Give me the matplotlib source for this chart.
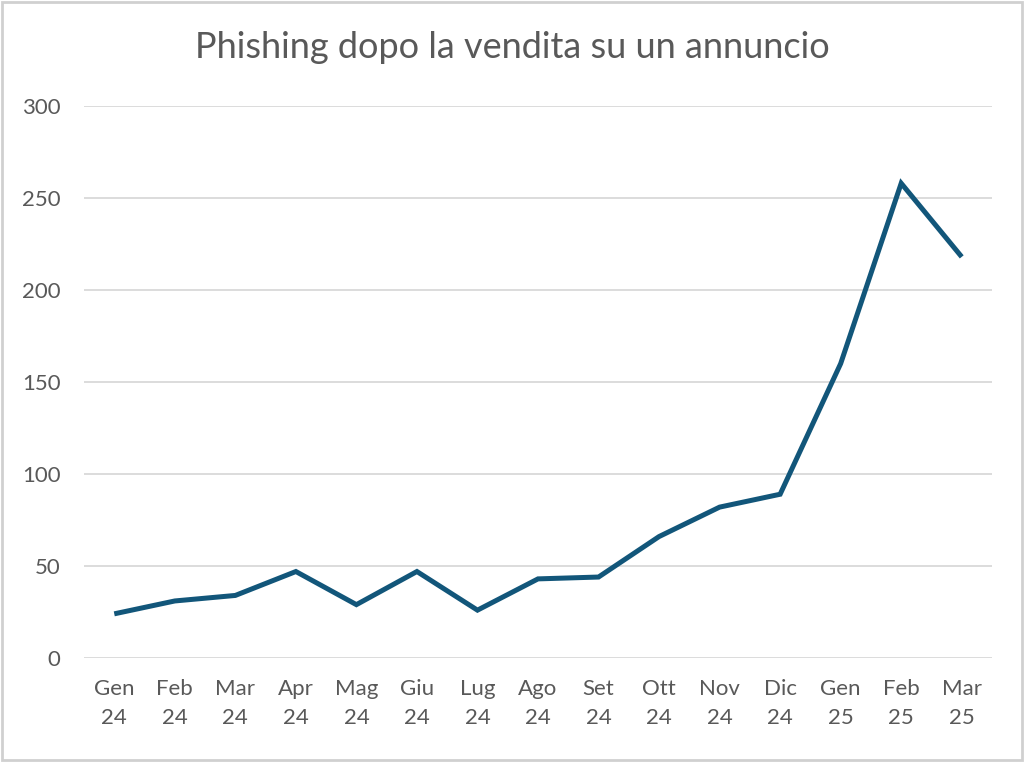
import numpy as np
import matplotlib.pyplot as plt
from matplotlib.patches import Rectangle

# Monthly values
mesi = ['Gen\n24', 'Feb\n24', 'Mar\n24', 'Apr\n24', 'Mag\n24', 'Giu\n24', 'Lug\n24',
        'Ago\n24', 'Set\n24', 'Ott\n24', 'Nov\n24', 'Dic\n24', 'Gen\n25', 'Feb\n25', 'Mar\n25']
casi = [24, 31, 34, 47, 29, 47, 26, 43, 44, 66, 82, 89, 160, 258, 218]
y_ticks = [0, 50, 100, 150, 200, 250, 300]

plt.rcParams['font.family'] = ['Lato', 'DejaVu Sans']

fig = plt.figure(figsize=(10.24, 7.62), dpi=100)
ax = fig.add_axes([84 / 1024, 1 - 658 / 762, (992 - 84) / 1024, (658 - 106) / 762])

x = np.arange(len(mesi))
ax.plot(x, casi, color='#12567a', linewidth=3.6, solid_joinstyle='miter', solid_capstyle='butt', zorder=3)

ax.set_xlim(-0.5, len(mesi) - 0.5)
ax.set_ylim(0, 300)
ax.set_yticks(y_ticks)
ax.set_xticks(x)
ax.set_xticklabels(mesi, fontsize=16, color='#595959', linespacing=1.6)
ax.tick_params(axis='y', labelsize=16, labelcolor='#595959', length=0, pad=17)
ax.tick_params(axis='x', length=0, pad=15)
ax.grid(axis='y', color='#d9d9d9', linewidth=1.3)
ax.set_axisbelow(True)
for s in ax.spines.values():
    s.set_visible(False)

fig.text(0.5, 1 - 47 / 762, 'Phishing dopo la vendita su un annuncio', ha='center', va='center',
         fontsize=26, color='#595959')

# light frame around the chart
fig.patches.append(Rectangle((0.002, 0.003), 0.996, 0.994, transform=fig.transFigure,
                             fill=False, edgecolor='#d0d0d0', linewidth=2))

fig.savefig('out.png', dpi=100)
